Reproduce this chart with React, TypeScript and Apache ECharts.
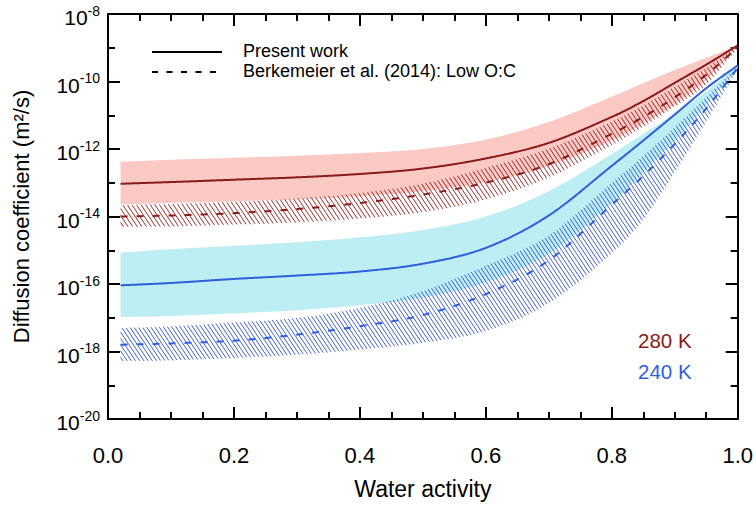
import React, { useEffect, useRef } from 'react';
import * as echarts from 'echarts';

// Water activity (x) sample positions
const waterActivity = [0.02, 0.1, 0.2, 0.3, 0.4, 0.5, 0.6, 0.7, 0.8, 0.85, 0.9, 0.95, 1.0];

// log10 of diffusion coefficient (m^2/s)
const present280 = [-13.03, -12.98, -12.91, -12.84, -12.74, -12.58, -12.28, -11.82, -11.05, -10.58, -10.04, -9.5, -8.93];
const band280Upper = [-12.38, -12.32, -12.26, -12.2, -12.12, -12.0, -11.72, -11.2, -10.45, -10.05, -9.66, -9.3, -8.93];
const band280Lower = [-13.64, -13.6, -13.55, -13.49, -13.4, -13.25, -12.98, -12.5, -11.75, -11.25, -10.68, -9.95, -8.95];
const berk280 = [-14.0, -13.97, -13.9, -13.78, -13.6, -13.35, -13.0, -12.45, -11.55, -11.05, -10.47, -9.8, -8.99];
const hatch280Upper = [-13.66, -13.62, -13.56, -13.46, -13.3, -13.02, -12.55, -11.98, -11.18, -10.7, -10.15, -9.58, -8.95];
const hatch280Lower = [-14.31, -14.3, -14.25, -14.18, -14.07, -13.88, -13.5, -12.85, -11.9, -11.35, -10.75, -10.1, -9.02];

const present240 = [-16.04, -15.97, -15.85, -15.75, -15.63, -15.4, -14.93, -13.97, -12.5, -11.75, -10.98, -10.2, -9.52];
const band240Upper = [-15.07, -14.97, -14.87, -14.76, -14.62, -14.4, -14.0, -13.25, -12.15, -11.55, -10.95, -10.3, -9.5];
const band240Lower = [-16.98, -16.95, -16.87, -16.78, -16.63, -16.4, -15.95, -15.1, -13.6, -12.7, -11.75, -10.7, -9.6];
const berk240 = [-17.8, -17.76, -17.68, -17.5, -17.25, -16.92, -16.3, -15.3, -13.65, -12.8, -11.85, -10.8, -9.6];
const hatch240Upper = [-17.3, -17.25, -17.13, -17.0, -16.7, -16.2, -15.45, -14.55, -13.0, -12.2, -11.35, -10.45, -9.55];
const hatch240Lower = [-18.29, -18.27, -18.2, -18.1, -17.95, -17.75, -17.4, -16.58, -15.1, -14.1, -12.7, -11.2, -9.65];

const xTickValues = [0, 0.2, 0.4, 0.6, 0.8, 1.0];
const yTickExponents = [-20, -18, -16, -14, -12, -10, -8];

const legendLabels = ['Present work', 'Berkemeier et al. (2014): Low O:C'];
const tempLabels = ['280 K', '240 K'];

const FONT = '"Liberation Sans", Arial, Helvetica, sans-serif';
const RED = '#8b1a1a';
const BLUE = '#2f5fdc';
const PINK = '#fac9c4';
const CYAN = '#bdeef4';

function makeCurve(px: number[], py: number[]) {
  const n = px.length;
  const m: number[] = [];
  for (let i = 0; i < n; i++) {
    if (i === 0) m.push((py[1] - py[0]) / (px[1] - px[0]));
    else if (i === n - 1) m.push((py[n - 1] - py[n - 2]) / (px[n - 1] - px[n - 2]));
    else m.push((py[i + 1] - py[i - 1]) / (px[i + 1] - px[i - 1]));
  }
  return (x: number) => {
    let i = 0;
    while (i < n - 2 && x > px[i + 1]) i++;
    const h = px[i + 1] - px[i];
    const t = Math.min(1, Math.max(0, (x - px[i]) / h));
    const t2 = t * t;
    const t3 = t2 * t;
    return (
      (2 * t3 - 3 * t2 + 1) * py[i] +
      (t3 - 2 * t2 + t) * h * m[i] +
      (-2 * t3 + 3 * t2) * py[i + 1] +
      (t3 - t2) * h * m[i + 1]
    );
  };
}

function curveFn(api: any, values: number[]) {
  const pts = waterActivity.map((x, i) => api.coord([x, values[i]]));
  const px = pts.map((p: number[]) => p[0]);
  return { xa: px[0], xb: px[px.length - 1], f: makeCurve(px, pts.map((p: number[]) => p[1])) };
}

function customBase(z: number) {
  return {
    type: 'custom',
    coordinateSystem: 'cartesian2d',
    silent: true,
    z,
    data: [[0.5, -14]],
    encode: { x: 0, y: 1 },
  };
}

function fillSeries(upper: number[], lower: number[], color: string, z: number) {
  return {
    ...customBase(z),
    renderItem: (_params: any, api: any) => {
      const u = curveFn(api, upper);
      const l = curveFn(api, lower);
      const pts: number[][] = [];
      for (let x = u.xa; x < u.xb; x += 1.5) pts.push([x, u.f(x)]);
      pts.push([u.xb, u.f(u.xb)]);
      const low: number[][] = [];
      for (let x = l.xa; x < l.xb; x += 1.5) low.push([x, l.f(x)]);
      low.push([l.xb, l.f(l.xb)]);
      return {
        type: 'polygon',
        shape: { points: pts.concat(low.reverse()) },
        style: { fill: color, stroke: 'none' },
      };
    },
  };
}

function hatchSeries(upper: number[], lower: number[], color: string, spacing: number, slope: number, z: number) {
  return {
    ...customBase(z),
    renderItem: (_params: any, api: any) => {
      const u = curveFn(api, upper);
      const l = curveFn(api, lower);
      const xa = u.xa;
      const xb = u.xb;
      const fu = u.f;
      const fl = l.f;
      let ymin = Infinity;
      let ymax = -Infinity;
      for (let x = xa; x <= xb; x += 1) {
        ymin = Math.min(ymin, fu(x));
        ymax = Math.max(ymax, fl(x));
      }
      const s = slope;
      const children: any[] = [];
      const cStart = Math.floor((xa - ymax / s) / spacing) * spacing;
      const cEnd = xb - ymin / s;
      const step = 0.3;
      for (let c = cStart; c <= cEnd; c += spacing) {
        const x0 = Math.max(xa, c + ymin / s);
        const x1 = Math.min(xb, c + ymax / s);
        let inRun = false;
        let sx = 0;
        let lx = 0;
        const push = () => {
          if (lx - sx > 0.3) {
            children.push({
              type: 'line',
              shape: { x1: sx, y1: s * (sx - c), x2: lx, y2: s * (lx - c) },
              style: { stroke: color, lineWidth: 0.9 },
            });
          }
        };
        for (let x = x0; x <= x1 + 1e-9; x += step) {
          const y = s * (x - c);
          const inside = y >= fu(x) && y <= fl(x);
          if (inside && !inRun) {
            inRun = true;
            sx = x;
          }
          if (inside) lx = x;
          if (!inside && inRun) {
            push();
            inRun = false;
          }
        }
        if (inRun) push();
      }
      return { type: 'group', children };
    },
  };
}

function curveSeries(values: number[], color: string, dashed: boolean) {
  return {
    ...customBase(5),
    renderItem: (_params: any, api: any) => {
      const c = curveFn(api, values);
      const pts: number[][] = [];
      for (let x = c.xa; x < c.xb; x += 1) pts.push([x, c.f(x)]);
      pts.push([c.xb, c.f(c.xb)]);
      return {
        type: 'polyline',
        shape: { points: pts },
        style: {
          stroke: color,
          lineWidth: 2,
          fill: 'none',
          lineDash: dashed ? [7, 9] : null,
        },
      };
    },
  };
}

const tickCommon = {
  axisLine: { show: true, onZero: false, lineStyle: { color: '#000', width: 2 } },
  splitLine: { show: false },
};

export default function App() {
  const ref = useRef<HTMLDivElement>(null);
  useEffect(() => {
    if (!ref.current) return;
    const chart = echarts.init(ref.current, undefined, { renderer: 'svg' });
    const xAxisBase = {
      type: 'value',
      min: 0,
      max: 1,
      interval: 0.2,
      ...tickCommon,
      axisTick: { show: true, inside: true, length: 12, lineStyle: { color: '#000', width: 2 } },
      minorTick: { show: true, splitNumber: 4, length: 7, lineStyle: { color: '#000', width: 2 } },
    };
    const yAxisBase = {
      type: 'value',
      min: -20,
      max: -8,
      interval: 2,
      ...tickCommon,
      axisTick: { show: true, inside: true, length: 12, lineStyle: { color: '#000', width: 2 } },
      minorTick: { show: true, splitNumber: 2, length: 7, lineStyle: { color: '#000', width: 2 } },
    };
    chart.setOption({
      animation: false,
      grid: { left: 108, right: 18, top: 6, bottom: 88, containLabel: false },
      xAxis: [
        {
          ...xAxisBase,
          position: 'bottom',
          axisLabel: {
            show: true,
            margin: 25,
            color: '#000',
            fontSize: 22,
            fontFamily: FONT,
            formatter: (v: number) => {
              const t = xTickValues.find((u) => Math.abs(u - v) < 1e-6);
              return t === undefined ? '' : t.toFixed(1);
            },
          },
          name: 'Water activity',
          nameLocation: 'middle',
          nameGap: 58,
          nameTextStyle: { color: '#000', fontSize: 23, fontFamily: FONT },
        },
        { ...xAxisBase, position: 'top', axisLabel: { show: false } },
      ],
      yAxis: [
        {
          ...yAxisBase,
          position: 'left',
          axisLabel: {
            show: true,
            margin: 8,
            color: '#000',
            formatter: (v: number) => {
              const e = yTickExponents.find((u) => Math.abs(u - v) < 1e-6);
              return e === undefined ? '' : `{a|10}{b|${e}}`;
            },
            rich: {
              a: { fontSize: 21, fontFamily: FONT, color: '#000', lineHeight: 21, padding: [7, 0, 0, 0] },
              b: { fontSize: 14, fontFamily: FONT, color: '#000', lineHeight: 14, verticalAlign: 'top' },
            },
          },
          name: 'Diffusion coefficient (m²/s)',
          nameLocation: 'middle',
          nameGap: 76,
          nameTextStyle: { color: '#000', fontSize: 22, fontFamily: FONT },
        },
        { ...yAxisBase, position: 'right', axisLabel: { show: false } },
      ],
      series: [
        fillSeries(band280Upper, band280Lower, PINK, 1),
        fillSeries(band240Upper, band240Lower, CYAN, 1),
        hatchSeries(hatch280Upper, hatch280Lower, RED, 4.6, 1.5, 2),
        hatchSeries(hatch240Upper, hatch240Lower, '#3050c8', 4.2, 1.5, 2),
        curveSeries(present280, RED, false),
        curveSeries(berk280, RED, true),
        curveSeries(present240, BLUE, false),
        curveSeries(berk240, BLUE, true),
      ],
      graphic: [
        { type: 'line', shape: { x1: 152, y1: 52, x2: 222, y2: 52 }, style: { stroke: '#000', lineWidth: 2 } },
        {
          type: 'line',
          shape: { x1: 152, y1: 72, x2: 222, y2: 72 },
          style: { stroke: '#000', lineWidth: 2, lineDash: [6, 8.5] },
        },
        {
          type: 'text',
          x: 243,
          y: 51,
          style: { text: legendLabels[0], fontSize: 18, fontFamily: FONT, fill: '#000', verticalAlign: 'middle' },
        },
        {
          type: 'text',
          x: 243,
          y: 71,
          style: { text: legendLabels[1], fontSize: 18, fontFamily: FONT, fill: '#000', verticalAlign: 'middle' },
        },
        {
          type: 'text',
          x: 638,
          y: 340,
          style: { text: tempLabels[0], fontSize: 20.5, fontFamily: FONT, fill: RED, verticalAlign: 'middle' },
        },
        {
          type: 'text',
          x: 638,
          y: 371,
          style: { text: tempLabels[1], fontSize: 20.5, fontFamily: FONT, fill: BLUE, verticalAlign: 'middle' },
        },
      ],
    });
    return () => chart.dispose();
  }, []);
  return (
    <div
      ref={ref}
      style={{ position: 'fixed', left: 0, top: 0, width: 756, height: 507, background: '#fff' }}
    />
  );
}
